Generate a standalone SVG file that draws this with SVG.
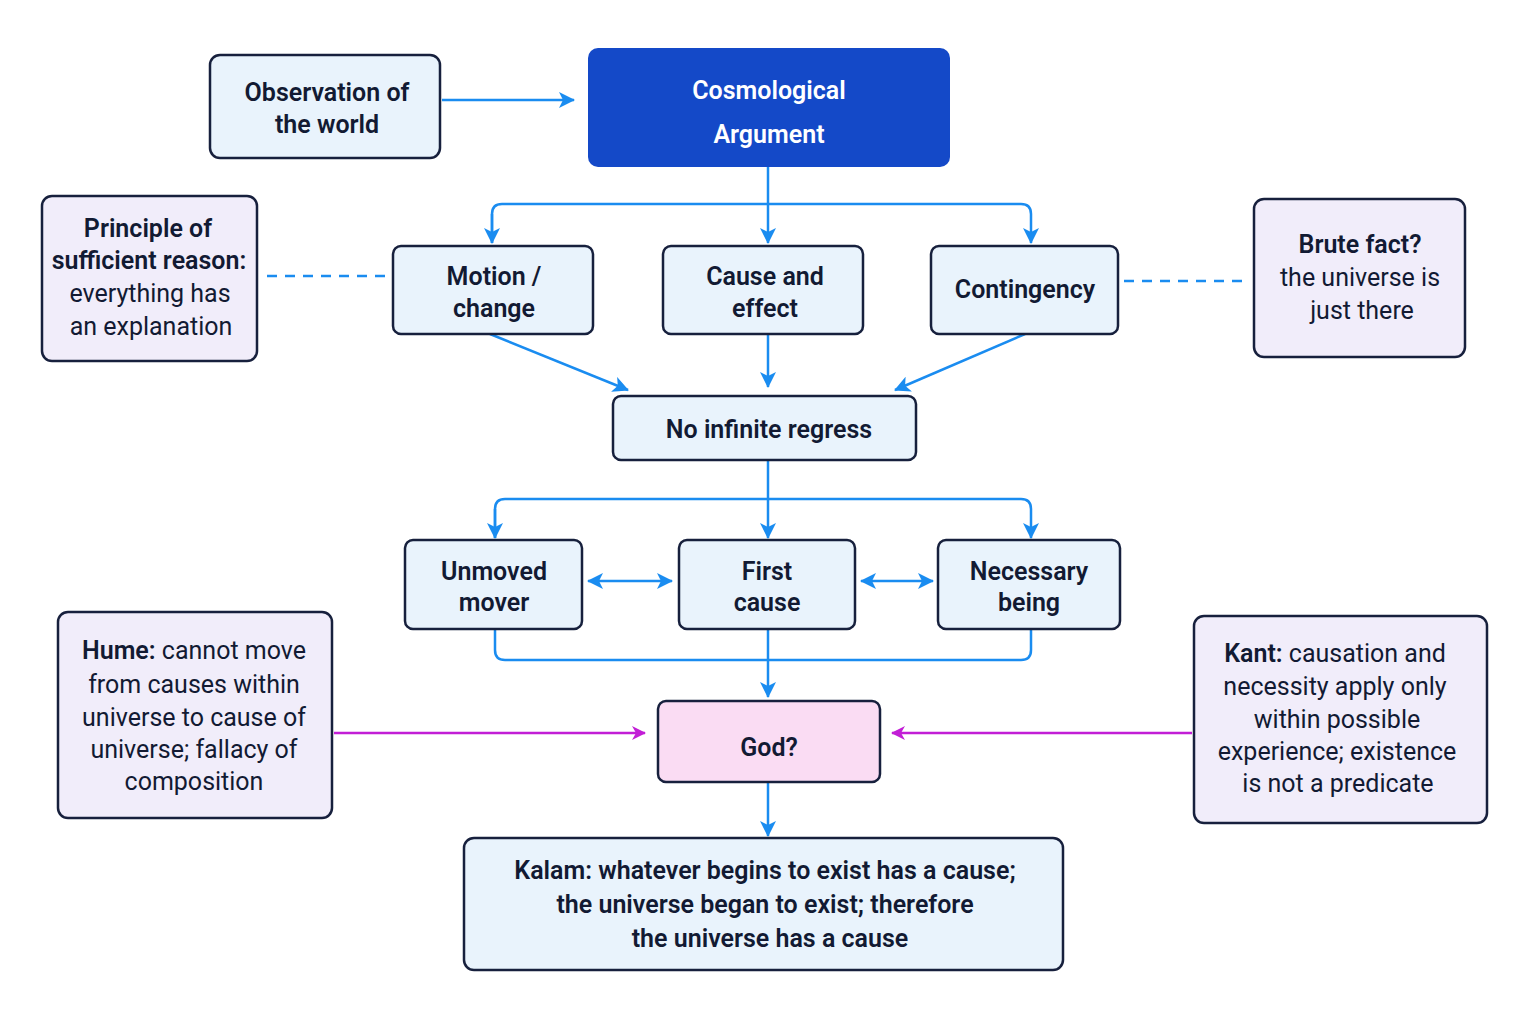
<svg xmlns="http://www.w3.org/2000/svg" width="1536" height="1024" viewBox="0 0 1536 1024">
<style>
.n{fill:#e9f3fc;stroke:#17203d;stroke-width:2.5}
.p{fill:#f1edfa;stroke:#17203d;stroke-width:2.5}
text{font-family:Roboto,"Liberation Sans",sans-serif;fill:#121a33;text-anchor:middle;font-size:25px}
.b{font-weight:600}
.c{fill:none;stroke:#1a8cf0;stroke-width:2.5}
.m{fill:none;stroke:#c21ed6;stroke-width:2.5}
</style>
<defs>
<marker id="a" markerWidth="10" markerHeight="10" refX="9" refY="5" orient="auto-start-reverse" markerUnits="userSpaceOnUse" viewBox="0 0 10 10"><path d="M0,0 L10,5 L0,10 L3,5 z" fill="#1a8cf0"/></marker>
<marker id="am" markerWidth="14" markerHeight="14" refX="13" refY="7" orient="auto" markerUnits="userSpaceOnUse" viewBox="0 0 14 14"><path d="M0,0 L14,7 L0,14 L4,7 z" fill="#c21ed6"/></marker>
<marker id="ab" markerWidth="16" markerHeight="16" refX="15" refY="8" orient="auto-start-reverse" markerUnits="userSpaceOnUse" viewBox="0 0 16 16"><path d="M0,0 L16,8 L0,16 L4,8 z" fill="#1a8cf0"/></marker>
</defs>
<rect width="1536" height="1024" fill="#ffffff"/>
<g id="connectors">
<path class="c" d="M442,100 H574" marker-end="url(#ab)"/>
<path class="c" d="M768,167 V243" marker-end="url(#ab)"/>
<path class="c" d="M492,243 V214 Q492,204 502,204 H1021 Q1031,204 1031,214 V243" marker-end="url(#ab)"/>
<path class="c" d="M492,214 V243" marker-end="url(#ab)"/>
<path class="c" d="M267,276 H392" stroke-dasharray="10,8"/>
<path class="c" d="M1124,281 H1250" stroke-dasharray="10,8"/>
<path class="c" d="M490,334 L628,390" marker-end="url(#ab)"/>
<path class="c" d="M768,334 V387" marker-end="url(#ab)"/>
<path class="c" d="M1025,334 L895,390" marker-end="url(#ab)"/>
<path class="c" d="M768,460 V538" marker-end="url(#ab)"/>
<path class="c" d="M495,538 V509 Q495,499 505,499 H1021 Q1031,499 1031,509 V538" marker-end="url(#ab)"/>
<path class="c" d="M495,509 V538" marker-end="url(#ab)"/>
<path class="c" d="M588,581 H672" marker-start="url(#ab)" marker-end="url(#ab)"/>
<path class="c" d="M861,581 H933" marker-start="url(#ab)" marker-end="url(#ab)"/>
<path class="c" d="M495,629 V650 Q495,660 505,660 H1021 Q1031,660 1031,650 V629"/>
<path class="c" d="M768,629 V697" marker-end="url(#ab)"/>
<path class="m" d="M334,733 H645" marker-end="url(#am)"/>
<path class="m" d="M1192,733 H892" marker-end="url(#am)"/>
<path class="c" d="M768,782 V836" marker-end="url(#ab)"/>
</g>
<g id="observation"><rect class="n" x="210" y="55" width="230" height="103" rx="10"/><text class="b" x="327" y="101">Observation of</text><text class="b" x="327" y="133">the world</text></g>
<g id="title"><rect x="588" y="48" width="362" height="119" rx="10" fill="#1449c8"/><text class="b" x="769" y="99" font-size="38" style="fill:#fff">Cosmological</text><text class="b" x="769" y="143" font-size="38" style="fill:#fff">Argument</text></g>
<g id="psr"><rect class="p" x="42" y="196" width="215" height="165" rx="10"/><text class="b" x="148" y="237">Principle of</text><text class="b" x="149" y="269">sufficient reason:</text><text x="150" y="302">everything has</text><text x="151" y="335">an explanation</text></g>
<g id="motion"><rect class="n" x="393" y="246" width="200" height="88" rx="8"/><text class="b" x="494" y="285">Motion /</text><text class="b" x="494" y="317">change</text></g>
<g id="cause"><rect class="n" x="663" y="246" width="200" height="88" rx="8"/><text class="b" x="765" y="285">Cause and</text><text class="b" x="765" y="317">effect</text></g>
<g id="contingency"><rect class="n" x="931" y="246" width="187" height="88" rx="8"/><text class="b" x="1025" y="298">Contingency</text></g>
<g id="brute"><rect class="p" x="1254" y="199" width="211" height="158" rx="10"/><text class="b" x="1360" y="253">Brute fact?</text><text x="1360" y="286">the universe is</text><text x="1362" y="319">just there</text></g>
<g id="regress"><rect class="n" x="613" y="396" width="303" height="64" rx="8"/><text class="b" x="769" y="438">No infinite regress</text></g>
<g id="unmoved"><rect class="n" x="405" y="540" width="177" height="89" rx="8"/><text class="b" x="494" y="580">Unmoved</text><text class="b" x="494" y="611">mover</text></g>
<g id="first"><rect class="n" x="679" y="540" width="176" height="89" rx="8"/><text class="b" x="767" y="580">First</text><text class="b" x="767" y="611">cause</text></g>
<g id="necessary"><rect class="n" x="938" y="540" width="182" height="89" rx="8"/><text class="b" x="1029" y="580">Necessary</text><text class="b" x="1029" y="611">being</text></g>
<g id="hume"><rect class="p" x="58" y="612" width="274" height="206" rx="10"/><text x="194" y="659"><tspan class="b">Hume:</tspan> cannot move</text><text x="194" y="693">from causes within</text><text x="194" y="726">universe to cause of</text><text x="194" y="758">universe; fallacy of</text><text x="194" y="790">composition</text></g>
<g id="god"><rect x="658" y="701" width="222" height="81" rx="8" fill="#fadcf3" stroke="#17203d" stroke-width="2.5"/><text class="b" x="769" y="756" font-size="36">God?</text></g>
<g id="kant"><rect class="p" x="1194" y="616" width="293" height="207" rx="10"/><text x="1335" y="662"><tspan class="b">Kant:</tspan> causation and</text><text x="1335" y="695">necessity apply only</text><text x="1337" y="728">within possible</text><text x="1337" y="760">experience; existence</text><text x="1338" y="792">is not a predicate</text></g>
<g id="kalam"><rect class="n" x="464" y="838" width="599" height="132" rx="10"/><text x="765" y="879"><tspan class="b">Kalam:</tspan> <tspan class="b">whatever begins to exist has a cause;</tspan></text><text class="b" x="765" y="913">the universe began to exist; therefore</text><text class="b" x="770" y="947">the universe has a cause</text></g>
</svg>
